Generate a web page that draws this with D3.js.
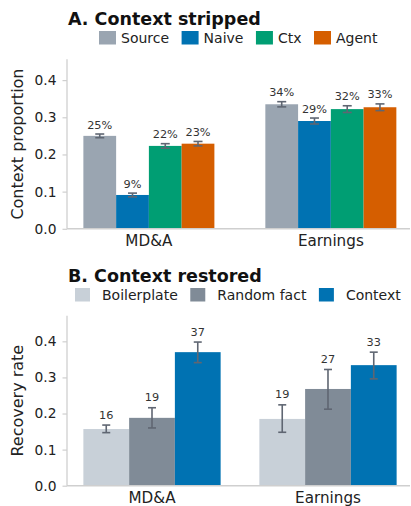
<!DOCTYPE html>
<html>
<head>
<meta charset="utf-8">
<script src="https://cdn.jsdelivr.net/npm/d3@7"></script>
<style>
  body { margin: 0; background: #fff; }
  svg { font-family: "DejaVu Sans", sans-serif; }
</style>
</head>
<body>
<svg id="chart"></svg>
<script>
const width = 411;
const height = 506;

// panel A data
const groups = ["MD&A", "Earnings"];
const stripSeries = ["Source", "Naive", "Ctx", "Agent"];
const stripColors = ["#9aa5b1", "#0072b2", "#009e73", "#d55e00"];
const stripValues = [
    [0.250, 0.091, 0.223, 0.229],   // MD&A
    [0.335, 0.290, 0.322, 0.327]    // Earnings
];
const stripErr = [
    [0.005, 0.005, 0.006, 0.006],
    [0.007, 0.008, 0.009, 0.009]
];
const stripLabels = [
    ["25%", "9%", "22%", "23%"],
    ["34%", "29%", "32%", "33%"]
];

// panel B data
const restSeries = ["Boilerplate", "Random fact", "Context"];
const restColors = ["#c8d0d8", "#808b97", "#0072b2"];
const restValues = [
    [0.157, 0.188, 0.370],
    [0.185, 0.268, 0.334]
];
const restLo = [
    [0.147, 0.160, 0.341],
    [0.148, 0.212, 0.296]
];
const restHi = [
    [0.168, 0.216, 0.398],
    [0.224, 0.322, 0.370]
];
const restLabels = [
    ["16", "19", "37"],
    ["19", "27", "33"]
];

const yTicks = [0, 0.1, 0.2, 0.3, 0.4];

const svg = d3.select('#chart')
    .attr('width', width).attr('height', height);

function drawPanel(opt) {
    const g = svg.append('g');
    const x = d3.scaleLinear().domain(opt.xDomain).range([67, 410]);
    const y = d3.scaleLinear().domain([0, opt.yMax]).range(opt.yRange);
    const n = opt.series.length;
    const bw = opt.barWidth;

    // title
    g.append('text')
        .attr('x', 68).attr('y', opt.titleY)
        .style('font-size', '17.5px').style('font-weight', 'bold')
        .style('fill', '#111')
        .text(opt.title);

    // legend
    let lx = opt.legendX;
    opt.series.forEach((s, i) => {
        g.append('rect')
            .attr('x', lx).attr('y', opt.legendY - 12)
            .attr('width', opt.swatchW).attr('height', 13.5)
            .attr('fill', opt.colors[i]);
        const t = g.append('text')
            .attr('x', lx + opt.swatchW + opt.swatchGap).attr('y', opt.legendY)
            .style('font-size', '14px').style('fill', '#222')
            .text(s);
        lx += opt.swatchW + opt.swatchGap + t.node().getComputedTextLength() + 12.5;
    });

    // y axis
    const yAxis = g.append('g')
        .attr('transform', 'translate(67,0)')
        .call(d3.axisLeft(y).tickValues(yTicks).tickFormat(d3.format('.1f')).tickSize(4.5).tickPadding(6));
    yAxis.select('.domain').attr('stroke', '#cfcfcf').attr('stroke-width', 1.3)
        .attr('d', `M0,${y(opt.yMax)}V${y(0)}`);
    yAxis.selectAll('.tick line').attr('stroke', '#cfcfcf').attr('stroke-width', 1.2);
    yAxis.selectAll('.tick text').style('font-size', '13.8px').style('fill', '#222')
        .style('font-family', '"DejaVu Sans", sans-serif');

    g.append('text')
        .attr('transform', `translate(23,${(y(0) + y(opt.yMax)) / 2}) rotate(-90)`)
        .attr('text-anchor', 'middle')
        .style('font-size', '16px').style('fill', '#222')
        .text(opt.yLabel);

    // bars
    opt.values.forEach((row, gi) => {
        row.forEach((v, si) => {
            const cx = gi + (si - (n - 1) / 2) * bw;
            g.append('rect')
                .attr('x', x(cx - bw / 2))
                .attr('y', y(v))
                .attr('width', x(cx + bw / 2) - x(cx - bw / 2))
                .attr('height', y(0) - y(v))
                .attr('fill', opt.colors[si]);
        });
    });

    // x axis line
    g.append('line')
        .attr('x1', 67).attr('x2', 410)
        .attr('y1', y(0)).attr('y2', y(0))
        .attr('stroke', '#cfcfcf').attr('stroke-width', 1.6);

    // error bars and labels
    opt.values.forEach((row, gi) => {
        row.forEach((v, si) => {
            const cx = x(gi + (si - (n - 1) / 2) * bw);
            const lo = opt.lo[gi][si], hi = opt.hi[gi][si];
            const eb = g.append('g').attr('stroke', '#5f6672').attr('stroke-width', 1.6);
            eb.append('line').attr('x1', cx).attr('x2', cx).attr('y1', y(lo)).attr('y2', y(hi));
            eb.append('line').attr('x1', cx - opt.cap).attr('x2', cx + opt.cap).attr('y1', y(lo)).attr('y2', y(lo));
            eb.append('line').attr('x1', cx - opt.cap).attr('x2', cx + opt.cap).attr('y1', y(hi)).attr('y2', y(hi));
            g.append('text')
                .attr('x', cx).attr('y', y(hi) - opt.labelGap)
                .attr('text-anchor', 'middle')
                .style('font-size', '11.3px').style('fill', '#333')
                .text(opt.labels[gi][si]);
        });
    });

    // x tick labels
    groups.forEach((name, gi) => {
        g.append('text')
            .attr('x', x(gi)).attr('y', y(0) + 17)
            .attr('text-anchor', 'middle')
            .style('font-size', '15.2px').style('fill', '#222')
            .text(name);
    });
}

drawPanel({
    title: 'A. Context stripped', titleY: 25,
    series: stripSeries, colors: stripColors,
    legendX: 99, legendY: 43, swatchW: 17, swatchGap: 5,
    values: stripValues,
    lo: stripValues.map((r, i) => r.map((v, j) => v - stripErr[i][j])),
    hi: stripValues.map((r, i) => r.map((v, j) => v + stripErr[i][j])),
    labels: stripLabels,
    yMax: 0.456, yRange: [228.8, 59.3],
    xDomain: [-0.45, 1.435], barWidth: 0.18,
    cap: 4.5, labelGap: 5.5,
    yLabel: 'Context proportion'
});

drawPanel({
    title: 'B. Context restored', titleY: 281.7,
    series: restSeries, colors: restColors,
    legendX: 75, legendY: 300, swatchW: 15, swatchGap: 12,
    values: restValues, lo: restLo, hi: restHi,
    labels: restLabels,
    yMax: 0.471, yRange: [485.7, 315.7],
    xDomain: [-0.483, 1.466], barWidth: 0.26,
    cap: 4, labelGap: 6.5,
    yLabel: 'Recovery rate'
});
</script>
</body>
</html>
